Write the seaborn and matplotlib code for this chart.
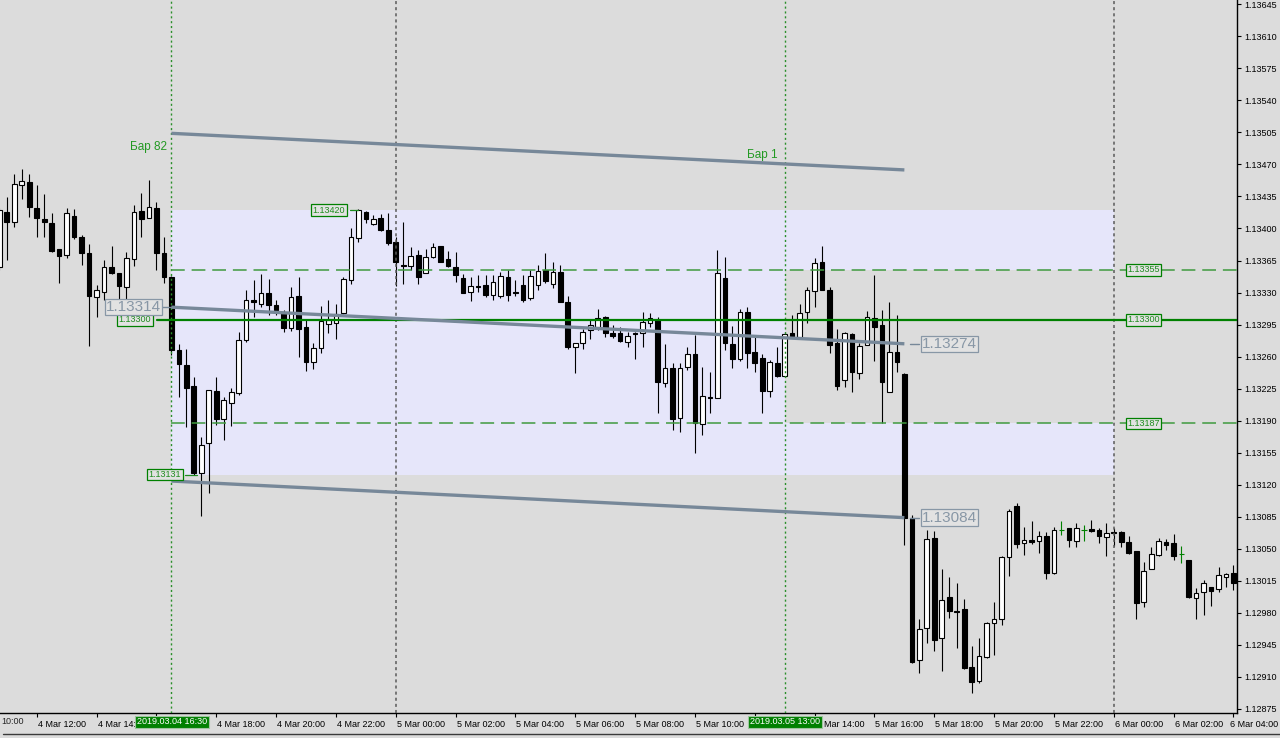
import matplotlib
matplotlib.use("Agg")
import matplotlib.pyplot as plt
import matplotlib.transforms as mtransforms
from matplotlib.lines import Line2D
from matplotlib.patches import Rectangle
import numpy as np
import pandas as pd
import seaborn as sns

BG = "#dcdcdc"
LAVENDER = "#e6e6fa"
GREEN = "#008000"
TAG_GREEN = "#1e8c1e"
CHANNEL = "#778899"
GRAY_TAG = "#8897a6"

# EURUSD M15 bars, 2019.03.04 10:45 .. 2019.03.06 04:00
bar_times = pd.date_range("2019-03-04 10:45", "2019-03-06 04:00", freq="15min")

opens = [
    1.13358, 1.13418, 1.13407, 1.13447, 1.13451, 1.13422, 1.13410, 1.13406, 1.13378, 1.13371,
    1.13414, 1.13391, 1.13373, 1.13325, 1.13331, 1.13358, 1.13351, 1.13336, 1.13367, 1.13419,
    1.13411, 1.13422, 1.13373, 1.13347, 1.13267, 1.13251, 1.13228, 1.13133, 1.13166, 1.13222,
    1.13192, 1.13209, 1.13220, 1.13278, 1.13322, 1.13317, 1.13330, 1.13316, 1.13308, 1.13291,
    1.13326, 1.13292, 1.13254, 1.13269, 1.13296, 1.13297, 1.13308, 1.13344, 1.13390, 1.13418,
    1.13405, 1.13411, 1.13398, 1.13385, 1.13360, 1.13359, 1.13371, 1.13351, 1.13369, 1.13381,
    1.13367, 1.13358, 1.13346, 1.13331, 1.13337, 1.13338, 1.13327, 1.13326, 1.13347, 1.13331,
    1.13338, 1.13324, 1.13338, 1.13355, 1.13339, 1.13352, 1.13320, 1.13270, 1.13275, 1.13289,
    1.13292, 1.13303, 1.13286, 1.13286, 1.13276, 1.13286, 1.13286, 1.13297, 1.13300, 1.13231,
    1.13248, 1.13193, 1.13249, 1.13263, 1.13186, 1.13216, 1.13215, 1.13346, 1.13274, 1.13257,
    1.13309, 1.13265, 1.13258, 1.13222, 1.13253, 1.13239, 1.13286, 1.13281, 1.13309, 1.13332,
    1.13363, 1.13333, 1.13275, 1.13234, 1.13285, 1.13242, 1.13273, 1.13302, 1.13295, 1.13221,
    1.13265, 1.13241, 1.13084, 1.12928, 1.12963, 1.13062, 1.12952, 1.12997, 1.12982, 1.12984,
    1.12921, 1.12905, 1.12932, 1.12969, 1.12973, 1.13041, 1.13097, 1.13056, 1.13060, 1.13058,
    1.13064, 1.13024, 1.13070, 1.13073, 1.13058, 1.13070, 1.13072, 1.13070, 1.13063, 1.13068,
    1.13068, 1.13057, 1.13048, 1.12992, 1.13028, 1.13043, 1.13057, 1.13056, 1.13044, 1.13038,
    1.12996, 1.13003, 1.13008, 1.13006, 1.13019, 1.13023,
]
highs = [
    1.13422, 1.13434, 1.13459, 1.13465, 1.13459, 1.13448, 1.13438, 1.13417, 1.13378, 1.13422,
    1.13421, 1.13393, 1.13383, 1.13338, 1.13366, 1.13381, 1.13351, 1.13374, 1.13426, 1.13439,
    1.13453, 1.13429, 1.13391, 1.13348, 1.13274, 1.13268, 1.13238, 1.13172, 1.13223, 1.13238,
    1.13216, 1.13226, 1.13287, 1.13333, 1.13344, 1.13350, 1.13345, 1.13322, 1.13311, 1.13336,
    1.13347, 1.13300, 1.13275, 1.13315, 1.13322, 1.13317, 1.13347, 1.13401, 1.13421, 1.13419,
    1.13415, 1.13416, 1.13417, 1.13391, 1.13407, 1.13380, 1.13377, 1.13378, 1.13384, 1.13381,
    1.13375, 1.13374, 1.13350, 1.13347, 1.13349, 1.13349, 1.13349, 1.13352, 1.13355, 1.13344,
    1.13349, 1.13355, 1.13360, 1.13373, 1.13363, 1.13360, 1.13326, 1.13275, 1.13290, 1.13300,
    1.13312, 1.13304, 1.13295, 1.13292, 1.13287, 1.13287, 1.13309, 1.13308, 1.13303, 1.13274,
    1.13253, 1.13253, 1.13270, 1.13284, 1.13249, 1.13243, 1.13377, 1.13369, 1.13293, 1.13312,
    1.13314, 1.13284, 1.13263, 1.13256, 1.13270, 1.13287, 1.13305, 1.13317, 1.13336, 1.13368,
    1.13381, 1.13336, 1.13290, 1.13287, 1.13286, 1.13275, 1.13310, 1.13349, 1.13311, 1.13320,
    1.13305, 1.13242, 1.13087, 1.12973, 1.13070, 1.13069, 1.13028, 1.13019, 1.13013, 1.12995,
    1.12944, 1.12952, 1.12970, 1.12992, 1.13042, 1.13093, 1.13100, 1.13074, 1.13080, 1.13069,
    1.13068, 1.13074, 1.13080, 1.13073, 1.13078, 1.13076, 1.13081, 1.13073, 1.13078, 1.13073,
    1.13069, 1.13064, 1.13048, 1.13036, 1.13052, 1.13062, 1.13061, 1.13066, 1.13053, 1.13038,
    1.13007, 1.13016, 1.13008, 1.13030, 1.13023, 1.13032,
]
lows = [
    1.13355, 1.13366, 1.13402, 1.13432, 1.13413, 1.13391, 1.13391, 1.13374, 1.13340, 1.13368,
    1.13389, 1.13360, 1.13272, 1.13303, 1.13322, 1.13350, 1.13315, 1.13315, 1.13359, 1.13391,
    1.13411, 1.13355, 1.13340, 1.13262, 1.13216, 1.13183, 1.13131, 1.13086, 1.13111, 1.13185,
    1.13169, 1.13184, 1.13218, 1.13276, 1.13303, 1.13314, 1.13305, 1.13305, 1.13287, 1.13288,
    1.13260, 1.13244, 1.13246, 1.13264, 1.13286, 1.13279, 1.13307, 1.13339, 1.13385, 1.13406,
    1.13404, 1.13397, 1.13382, 1.13337, 1.13339, 1.13355, 1.13339, 1.13351, 1.13368, 1.13363,
    1.13358, 1.13342, 1.13330, 1.13321, 1.13331, 1.13325, 1.13322, 1.13324, 1.13321, 1.13326,
    1.13320, 1.13322, 1.13333, 1.13340, 1.13335, 1.13320, 1.13268, 1.13242, 1.13268, 1.13279,
    1.13289, 1.13281, 1.13280, 1.13276, 1.13270, 1.13257, 1.13270, 1.13292, 1.13198, 1.13227,
    1.13180, 1.13178, 1.13245, 1.13155, 1.13174, 1.13198, 1.13215, 1.13267, 1.13248, 1.13255,
    1.13248, 1.13243, 1.13198, 1.13216, 1.13238, 1.13238, 1.13281, 1.13281, 1.13297, 1.13314,
    1.13333, 1.13264, 1.13223, 1.13227, 1.13221, 1.13236, 1.13273, 1.13255, 1.13187, 1.13221,
    1.13243, 1.13054, 1.12925, 1.12914, 1.12947, 1.12938, 1.12916, 1.12974, 1.12941, 1.12919,
    1.12892, 1.12903, 1.12931, 1.12934, 1.12967, 1.13020, 1.13051, 1.13043, 1.13055, 1.13045,
    1.13017, 1.13022, 1.13065, 1.13052, 1.13052, 1.13058, 1.13068, 1.13056, 1.13042, 1.13053,
    1.13052, 1.13044, 1.12973, 1.12986, 1.13028, 1.13042, 1.13049, 1.13038, 1.13034, 1.12996,
    1.12973, 1.12978, 1.12987, 1.13003, 1.13008, 1.13005,
]
closes = [
    1.13420, 1.13407, 1.13449, 1.13452, 1.13424, 1.13411, 1.13407, 1.13375, 1.13370, 1.13417,
    1.13391, 1.13373, 1.13326, 1.13333, 1.13358, 1.13351, 1.13337, 1.13368, 1.13418, 1.13410,
    1.13424, 1.13373, 1.13347, 1.13267, 1.13252, 1.13226, 1.13133, 1.13163, 1.13223, 1.13192,
    1.13213, 1.13221, 1.13278, 1.13322, 1.13320, 1.13330, 1.13316, 1.13311, 1.13291, 1.13325,
    1.13290, 1.13254, 1.13269, 1.13299, 1.13300, 1.13307, 1.13345, 1.13391, 1.13420, 1.13410,
    1.13410, 1.13398, 1.13384, 1.13363, 1.13359, 1.13370, 1.13347, 1.13369, 1.13380, 1.13363,
    1.13359, 1.13349, 1.13330, 1.13337, 1.13336, 1.13327, 1.13342, 1.13348, 1.13327, 1.13330,
    1.13322, 1.13348, 1.13354, 1.13343, 1.13352, 1.13320, 1.13270, 1.13275, 1.13287, 1.13294,
    1.13302, 1.13286, 1.13283, 1.13277, 1.13283, 1.13285, 1.13298, 1.13302, 1.13232, 1.13248,
    1.13192, 1.13248, 1.13263, 1.13187, 1.13217, 1.13215, 1.13351, 1.13275, 1.13257, 1.13309,
    1.13264, 1.13253, 1.13222, 1.13254, 1.13239, 1.13285, 1.13283, 1.13308, 1.13333, 1.13362,
    1.13333, 1.13273, 1.13228, 1.13286, 1.13243, 1.13272, 1.13303, 1.13292, 1.13232, 1.13265,
    1.13254, 1.13084, 1.12926, 1.12962, 1.13061, 1.12950, 1.12994, 1.12982, 1.12981, 1.12920,
    1.12904, 1.12933, 1.12969, 1.12973, 1.13041, 1.13091, 1.13055, 1.13060, 1.13057, 1.13064,
    1.13024, 1.13070, 1.13070, 1.13060, 1.13073, 1.13070, 1.13069, 1.13064, 1.13067, 1.13067,
    1.13057, 1.13045, 1.12991, 1.13026, 1.13044, 1.13058, 1.13054, 1.13042, 1.13044, 1.12997,
    1.13002, 1.13013, 1.13004, 1.13021, 1.13022, 1.13013,
]

price_ticks = [
    1.12875, 1.12910, 1.12945, 1.12980, 1.13015, 1.13050, 1.13085, 1.13120,
    1.13155, 1.13190, 1.13225, 1.13260, 1.13295, 1.13330, 1.13365, 1.13400,
    1.13435, 1.13470, 1.13505, 1.13540, 1.13575, 1.13610, 1.13645,
]

# objects on the chart
bar82_time = pd.Timestamp("2019-03-04 16:30")
bar1_time = pd.Timestamp("2019-03-05 13:00")
channel_end_time = pd.Timestamp("2019-03-05 17:00")
box_end_time = pd.Timestamp("2019-03-06 00:00")
day_breaks = [pd.Timestamp("2019-03-05 00:00"), pd.Timestamp("2019-03-06 00:00")]
range_high = 1.13420
range_low = 1.13131
level_main = 1.13300
level_upper = 1.13355
level_lower = 1.13187
channel_upper = [1.13504, 1.13464]
channel_mid = [1.13314, 1.13274]
channel_lower = [1.13124, 1.13084]

df = pd.DataFrame({"time": bar_times, "open": opens, "high": highs,
                   "low": lows, "close": closes})
df["i"] = np.arange(len(df))


def bar_index(t):
    return bar_times.get_loc(t)


i82 = bar_index(bar82_time)
i1 = bar_index(bar1_time)
i_ch = bar_index(channel_end_time)
i_box = bar_index(box_end_time)

sns.set_style("white", {"axes.facecolor": BG, "figure.facecolor": BG})
plt.rcParams["font.family"] = ["Liberation Sans", "DejaVu Sans"]

fig = plt.figure(figsize=(12.8, 7.38), dpi=100, facecolor=BG)
AX_W = 1237.0
ax = fig.add_axes([0, 25 / 738, AX_W / 1280, 713 / 738])
ax.set_facecolor(BG)
ax.set_xlim(0.09, 165.47)
ax.set_ylim(1.128705, 1.136497)


def fx(px):
    return px / AX_W


yx = ax.get_yaxis_transform()

# range boxes (overlap cancels out like in the terminal)
ax.add_patch(Rectangle((i82, range_low), i_box - i82, range_high - range_low,
                       facecolor=LAVENDER, edgecolor="none", zorder=0.5))
ax.add_patch(Rectangle((i1, level_lower), i_box - i1, level_upper - level_lower,
                       facecolor=BG, edgecolor="none", zorder=0.6))

# candles
up = df[df.close > df.open]
down = df[df.close < df.open]
flat = df[df.close == df.open]
moving = df[df.close != df.open]
ax.vlines(moving.i, moving.low, moving.high, color="black", lw=0.8, zorder=2)
ax.vlines(flat.i, flat.low, flat.high, color=GREEN, lw=0.8, zorder=2)
ax.bar(up.i, up.close - up.open, bottom=up.open, width=0.62, color="white",
       edgecolor="black", lw=0.8, zorder=3)
ax.bar(down.i, down.close - down.open, bottom=down.open, width=0.62,
       color="black", edgecolor="black", lw=0.8, zorder=3)
ax.hlines(flat.close, flat.i - 0.35, flat.i + 0.35, color=GREEN, lw=0.8, zorder=3)

# vertical lines
for t in day_breaks:
    ax.axvline(bar_index(t), color="#5a5a5a", lw=1.1, ls=(0, (2, 2)), zorder=4)
for i in (i82, i1):
    ax.axvline(i, color="#2a8f2a", lw=1.0, ls=(0, (1.5, 2)), zorder=4)

# horizontal levels
ax.plot([fx(157), 1], [level_main] * 2, transform=yx, color=GREEN, lw=1.6, zorder=5)
for lv in (level_upper, level_lower):
    ax.plot([i82, 165.47], [lv] * 2, color="#3f9a3f", lw=1.1,
            ls=(0, (9, 4.5)), zorder=5)
ax.plot([fx(350), fx(358)], [range_high] * 2, transform=yx, color=TAG_GREEN, lw=0.9, zorder=5)
ax.plot([fx(185), fx(197)], [range_low] * 2, transform=yx, color=TAG_GREEN, lw=0.9, zorder=5)

# regression channel
for ys in (channel_upper, channel_mid, channel_lower):
    sns.lineplot(x=[i82, i_ch], y=ys, ax=ax, color=CHANNEL, lw=2.4,
                 solid_capstyle="butt", zorder=6)
ax.plot([fx(162), fx(172)], [channel_mid[0]] * 2, transform=yx, color=CHANNEL, lw=1.0, zorder=6)
for y in (channel_mid[1], channel_lower[1]):
    ax.plot([fx(910), fx(919)], [y] * 2, transform=yx, color=CHANNEL, lw=1.0, zorder=6)


def tag(xf, y, text, color, size, edge, pad=0.15):
    ax.text(xf, y, text, transform=yx, ha="center", va="center", color=color,
            fontsize=size, zorder=8,
            bbox=dict(boxstyle=f"square,pad={pad}", fc="#e2e2e2", ec=edge, lw=0.9))


for lv in (level_upper, level_main, level_lower):
    tag(fx(1143.5), lv, f"{lv:.5f}", TAG_GREEN, 6.5, GREEN)
tag(fx(135), level_main, f"{level_main:.5f}", TAG_GREEN, 6.5, GREEN)
tag(fx(329), range_high, f"{range_high:.5f}", TAG_GREEN, 6.5, GREEN)
tag(fx(165), range_low, f"{range_low:.5f}", TAG_GREEN, 6.5, GREEN)
tag(fx(133.5), channel_mid[0], f"{channel_mid[0]:.5f}", GRAY_TAG, 11, GRAY_TAG, 0.08)
tag(fx(949.5), channel_mid[1], f"{channel_mid[1]:.5f}", GRAY_TAG, 11, GRAY_TAG, 0.08)
tag(fx(949.5), channel_lower[1], f"{channel_lower[1]:.5f}", GRAY_TAG, 11, GRAY_TAG, 0.08)

ax.annotate("Бар 82", xy=(i82, 1.13489), xytext=(-4, 0), textcoords="offset pixels",
            ha="right", va="center", color="#229922", fontsize=8.5, zorder=8)
ax.annotate("Бар 1", xy=(i1, 1.13480), xytext=(-7, 0), textcoords="offset pixels",
            ha="right", va="center", color="#229922", fontsize=8.5, zorder=8)

# axes styling
for s in ("top", "left"):
    ax.spines[s].set_visible(False)
for s in ("right", "bottom"):
    ax.spines[s].set_color("black")
    ax.spines[s].set_linewidth(1.0)

ax.yaxis.tick_right()
ax.set_yticks(price_ticks, [f"{p:.5f}" for p in price_ticks])
ax.tick_params(axis="y", length=3, width=0.8, pad=2, labelsize=6.5, colors="black",
               right=True, left=False)

# time labels every 2 hours; the ones under the marker boxes are hidden or cut
sel = df[(df.time.dt.minute == 0) & (df.time.dt.hour % 2 == 0)]
labels = []
for t in sel.time:
    lab = f"{t.day} {t.strftime('%b %H:%M')}"
    if t == pd.Timestamp("2019-03-04 14:00"):
        lab = "4 Mar 14:"
    elif t in (pd.Timestamp("2019-03-04 16:00"), pd.Timestamp("2019-03-05 12:00")):
        lab = ""
    elif t == pd.Timestamp("2019-03-05 14:00"):
        lab = "Mar 14:00"
    labels.append(lab)
ax.set_xticks(sel.i, labels)
ax.tick_params(axis="x", length=3, width=0.8, pad=2, labelsize=6.5, colors="black",
               bottom=True)
for lab in ax.get_xticklabels():
    dx = 1
    if lab.get_text() == "Mar 14:00":
        dx = 9
    elif lab.get_text() == "6 Mar 04:00":
        dx = -3
    lab.set_ha("left")
    lab.set_transform(lab.get_transform() +
                      mtransforms.ScaledTranslation(dx / 100, 0, fig.dpi_scale_trans))
ax.set_xlabel("")
ax.set_ylabel("")

fig.text(1 / 1280, 1 - 722 / 738, "10:00", fontsize=6.5, va="center", ha="left")
for t, px in ((bar82_time, 172), (bar1_time, 785)):
    fig.text(px / 1280, 1 - 722 / 738, t.strftime("%Y.%m.%d %H:%M"), color="white",
             fontsize=6.5, ha="center", va="center", zorder=10,
             bbox=dict(boxstyle="square,pad=0.2", fc=GREEN, ec="#9fc59f", lw=0.8))

fig.add_artist(Line2D([3 / 1280, 1], [4 / 738, 4 / 738], color="#3a3a3a", lw=1.0))

fig.savefig("out.png", dpi=100, facecolor=BG)
